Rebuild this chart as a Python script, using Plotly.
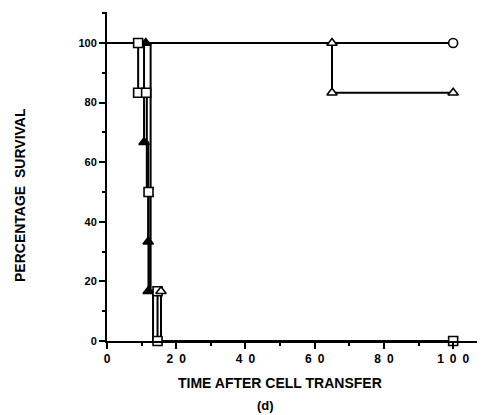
import plotly.graph_objects as go

# Kaplan-Meier style step data (time, % survival)
circ_t = [0, 100]
circ_s = [100, 100]
circ_mx = [100]
circ_my = [100]

tri_late_t = [0, 65, 100]
tri_late_s = [100, 83.3, 83.3]
tri_late_mx = [65, 65, 100]
tri_late_my = [100, 83.3, 83.3]

sq_t = [0, 9, 11.5, 12, 14.6, 100]
sq_s = [100, 83.3, 50, 16.7, 0, 0]
sq_mx = [9, 9, 11.3, 12, 14.6, 14.6, 100]
sq_my = [100, 83.3, 83.3, 50, 16.7, 0, 0]

fill_t = [0, 10.7, 11.9, 12.1, 13.3]
fill_s = [100, 66.7, 33.3, 16.7, 0]
fill_mx = [11.2, 10.7, 11.9, 11.9]
fill_my = [100, 66.7, 33.3, 16.7]

tri_early_t = [0, 12.6, 15.6, 16]
tri_early_s = [100, 16.7, 0, 0]
tri_early_mx = [15.6]
tri_early_my = [16.7]

x_ticks = [0, 20, 40, 60, 80, 100]
x_ticktext = ["0", "2\u20020", "4\u20020", "6\u20020", "8\u20020", "1\u20020\u20020"]
y_ticks = [0, 20, 40, 60, 80, 100]

fig = go.Figure()

LW = 2
for t, s in [(circ_t, circ_s), (tri_late_t, tri_late_s), (sq_t, sq_s),
             (fill_t, fill_s), (tri_early_t, tri_early_s)]:
    fig.add_trace(go.Scatter(x=t, y=s, mode="lines", line=dict(color="black", width=LW, shape="hv"),
                             showlegend=False, hoverinfo="skip"))

def markers(x, y, symbol, fill, size):
    fig.add_trace(go.Scatter(x=x, y=y, mode="markers", showlegend=False, cliponaxis=False,
                             marker=dict(symbol=symbol, size=size, color=fill,
                                         line=dict(color="black", width=1.6))))

markers(fill_mx, fill_my, "triangle-up", "black", 9)
markers(sq_mx, sq_my, "square", "white", 9)
markers(tri_early_mx, tri_early_my, "triangle-up", "white", 9)
markers(tri_late_mx, tri_late_my, "triangle-up", "white", 9)
markers(circ_mx, circ_my, "circle", "white", 9)

font_family = "Liberation Sans, Arial, sans-serif"

# page body has an 8px default margin, so the figure is sized 8px smaller
fig.update_layout(
    width=477, height=407,
    margin=dict(l=99, r=0, t=4, b=74),
    paper_bgcolor="white", plot_bgcolor="white",
    xaxis=dict(range=[0, 109.2], tickvals=x_ticks, ticktext=x_ticktext,
               showgrid=False, zeroline=False, showline=True, linecolor="black", linewidth=2,
               ticks="outside", ticklen=6, tickwidth=1.5, tickcolor="black",
               minor=dict(dtick=10, tick0=0, ticks="outside", ticklen=3, tickwidth=1.5, tickcolor="black"),
               tickfont=dict(family=font_family, size=12, color="black", weight="bold")),
    yaxis=dict(range=[0, 110.4], tickvals=y_ticks,
               showgrid=False, zeroline=False, showline=True, linecolor="black", linewidth=2,
               ticks="outside", ticklen=6, tickwidth=1.5, tickcolor="black",
               minor=dict(dtick=10, tick0=0, ticks="outside", ticklen=3, tickwidth=1.5, tickcolor="black"),
               tickfont=dict(family=font_family, size=11, color="black", weight="bold")),
    annotations=[
        dict(text="TIME AFTER CELL TRANSFER", xref="paper", yref="paper", x=0.458, y=-0.128,
             showarrow=False, xanchor="center", yanchor="middle",
             font=dict(family=font_family, size=14, color="black", weight="bold")),
        dict(text="(d)", xref="paper", yref="paper", x=0.418, y=-0.195,
             showarrow=False, xanchor="center", yanchor="middle",
             font=dict(family=font_family, size=13, color="black", weight="bold")),
        dict(text="PERCENTAGE\u00a0\u00a0SURVIVAL", xref="paper", yref="paper", x=-0.230, y=0.444,
             showarrow=False, xanchor="center", yanchor="middle", textangle=-90,
             font=dict(family=font_family, size=14, color="black", weight="bold")),
    ],
)

fig.write_html("out.html")
